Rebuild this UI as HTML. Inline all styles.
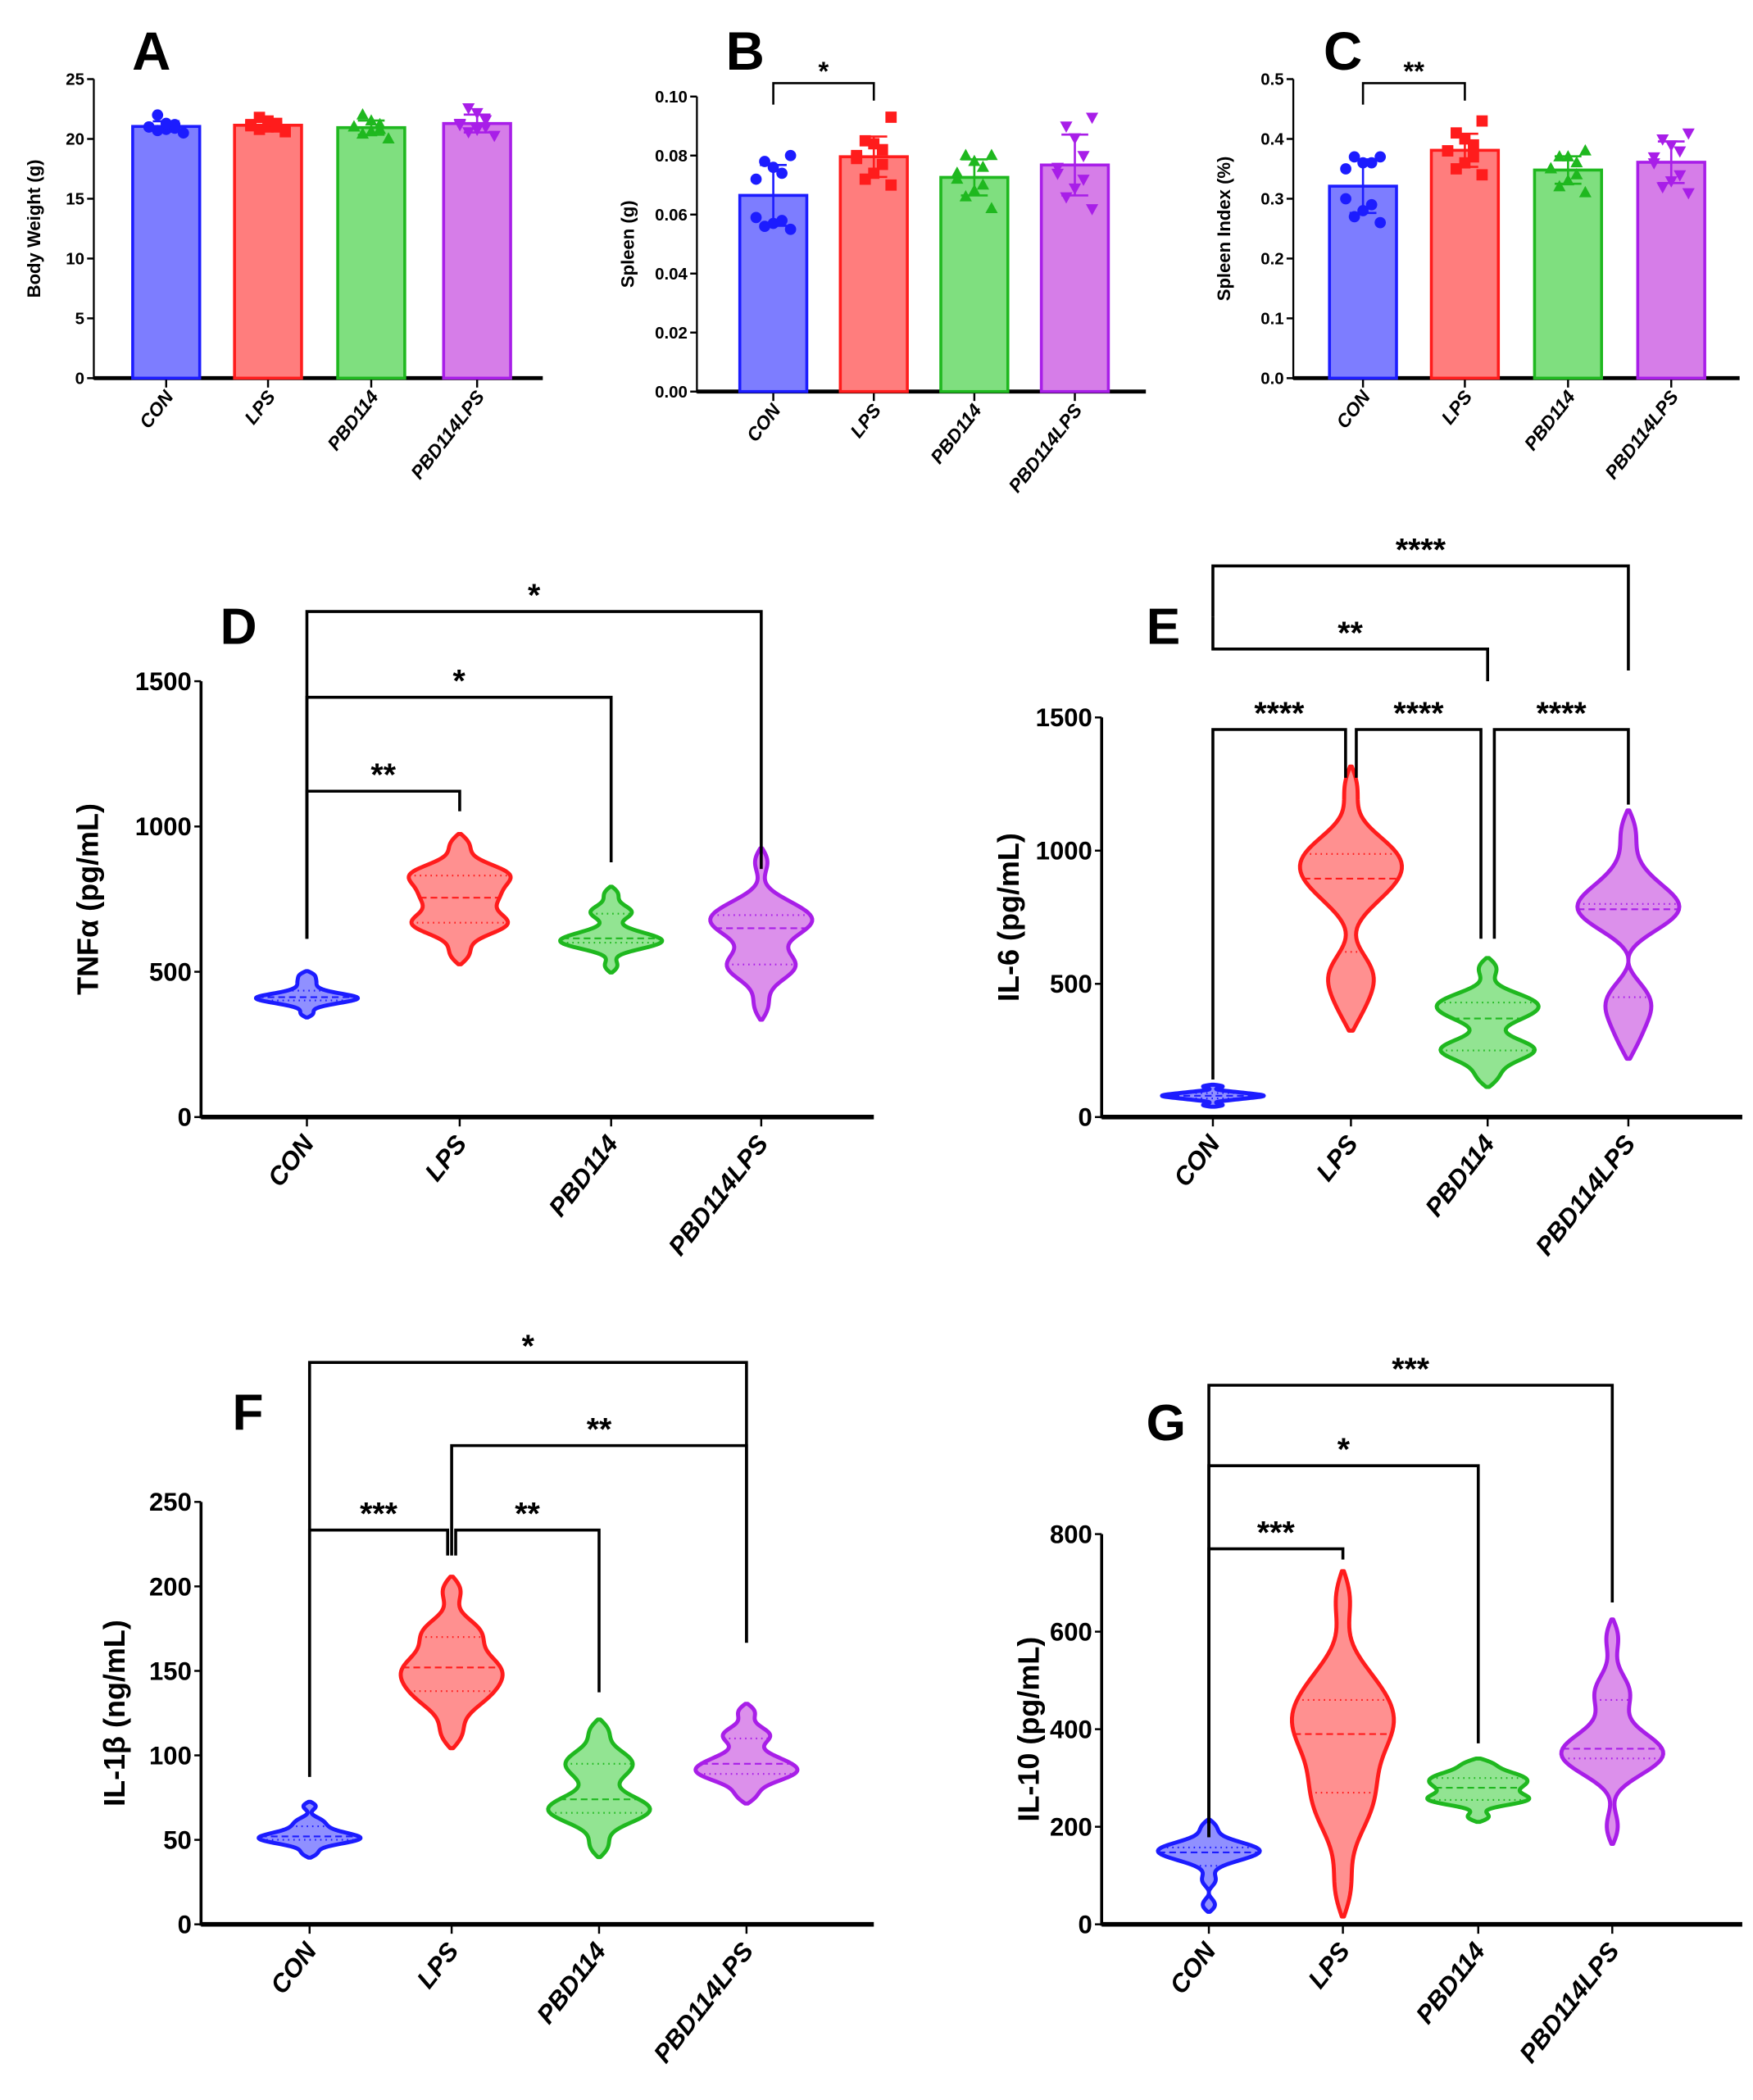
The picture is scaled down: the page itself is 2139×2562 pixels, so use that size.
<!DOCTYPE html>
<html><head><meta charset="utf-8"><style>
html,body{margin:0;padding:0;background:#fff}
svg{display:block;font-family:"Liberation Sans",sans-serif}
</style></head><body>
<svg id="fig" width="2139" height="2562" viewBox="0 0 1308 1566" preserveAspectRatio="none" xmlns="http://www.w3.org/2000/svg"></svg>
<script>
// ---------- DATA ----------
const categories = ["CON","LPS","PBD114","PBD114LPS"];
const bodyWeight = [[20.5,20.7,20.8,20.9,21,21,21.2,21.3,22],[20.6,20.8,21,21,21.1,21.2,21.3,21.5,21.8],[20,20.4,20.6,20.8,21,21,21.2,21.5,22],[20.3,20.6,20.8,21,21.2,21.3,21.6,22.2,22.6]];
const spleenWeight = [[0.055,0.056,0.057,0.058,0.059,0.072,0.074,0.076,0.078,0.080],[0.070,0.072,0.074,0.077,0.079,0.080,0.082,0.084,0.085,0.093],[0.062,0.066,0.068,0.070,0.072,0.074,0.076,0.078,0.080,0.080],[0.062,0.066,0.069,0.072,0.074,0.076,0.080,0.086,0.090,0.093]];
const spleenIndex = [[0.26,0.27,0.28,0.29,0.30,0.35,0.36,0.36,0.37,0.37],[0.34,0.35,0.36,0.37,0.38,0.38,0.39,0.40,0.41,0.43],[0.31,0.32,0.33,0.34,0.35,0.35,0.36,0.37,0.37,0.38],[0.31,0.32,0.33,0.34,0.36,0.37,0.38,0.39,0.40,0.41]];
const tnfa = [[355,385,400,405,410,415,420,440,465,490],[560,650,665,680,750,760,820,835,850,940],[520,590,600,605,615,640,700,710,770],[380,500,520,540,640,660,680,700,740,880]];
const il6 = [[45,65,75,80,85,95,115],[400,520,560,800,880,910,950,1000,1030,1240],[150,240,250,270,370,400,430,450,560],[290,420,450,740,780,790,800,910,1080]];
const il1b = [[42,48,50,51,52,54,58,62,70],[112,130,138,145,152,156,170,176,198],[46,62,66,70,74,88,95,100,115],[76,86,89,92,95,100,110,114,126]];
const il10 = [[40,90,130,145,150,155,165,200],[70,200,260,300,380,400,430,470,520,670],[220,250,255,265,280,290,300,310,330],[200,320,340,350,360,380,460,490,590]];
const ticksA = [0,5,10,15,20,25];
const ticksB = [0,0.02,0.04,0.06,0.08,0.10];
const tickLabelsB = ["0.00","0.02","0.04","0.06","0.08","0.10"];
const ticksC = [0,0.1,0.2,0.3,0.4,0.5];
const tickLabelsC = ["0.0","0.1","0.2","0.3","0.4","0.5"];
const ticksD = [0,500,1000,1500];
const ticksE = [0,500,1000,1500];
const ticksF = [0,50,100,150,200,250];
const ticksG = [0,200,400,600,800];
const sigB = [[0,1,"*"]];
const sigC = [[0,1,"**"]];
const sigD = [[0,1,"**"],[0,2,"*"],[0,3,"*"]];
const sigE = [[0,1,"****"],[1,2,"****"],[2,3,"****"],[0,2,"**"],[0,3,"****"]];
const sigF = [[0,1,"***"],[1,2,"**"],[1,3,"**"],[0,3,"*"]];
const sigG = [[0,1,"***"],[0,2,"*"],[0,3,"***"]];

// ---------- DRAW ----------
const svg = document.getElementById('fig');
const NS = "http://www.w3.org/2000/svg";
const strokeC = ["#1c1cff","#ff1c1c","#1fb81f","#a81ee8"];
const fillC = ["#7d7dff","#ff7d7d","#7fdf7f","#d67de8"];
function mk(tag, attrs, name, parent){
  const el = document.createElementNS(NS, tag);
  for (const k in attrs) el.setAttribute(k, attrs[k]);
  
  
  (parent||svg).appendChild(el);
  return el;
}
function txt(x,y,s,size,name,extra){
  const t = mk('text', Object.assign({x:x,y:y,'font-size':size,'font-weight':'bold',fill:'#000'},extra||{}), name);
  t.textContent = s; return t;
}
const mean = a => a.reduce((p,c)=>p+c,0)/a.length;
const sd = a => {const m=mean(a);return Math.sqrt(a.reduce((p,c)=>p+(c-m)*(c-m),0)/(a.length-1));};
function quant(a,q){const s=[...a].sort((x,y)=>x-y);const p=(s.length-1)*q;const i=Math.floor(p);return s[i]+(s[Math.min(i+1,s.length-1)]-s[i])*(p-i);}

function axes(P, ticks, labels){
  const y = v => P.y0 - (v/P.vmax)*(P.y0-P.yTop);
  mk('line',{x1:P.ax,y1:P.y0+1,x2:P.ax,y2:P.yTop,stroke:'#000','stroke-width':P.big?2.2:1.4},'y-axis-line');
  mk('line',{x1:P.ax,y1:P.y0,x2:P.axEnd,y2:P.y0,stroke:'#000','stroke-width':P.big?3.5:3},'x-axis-line');
  ticks.forEach((v,i)=>{
    mk('line',{x1:P.ax-5,y1:y(v),x2:P.ax,y2:y(v),stroke:'#000','stroke-width':1.5},'y-tick');
    txt(P.ax-7,y(v)+P.tf*0.35,labels?labels[i]:String(v),P.tf,'y-tick-label',{'text-anchor':'end','font-stretch':'condensed'});
  });
  P.xs.forEach((x,i)=>{
    mk('line',{x1:x,y1:P.y0,x2:x,y2:P.y0+7,stroke:'#000','stroke-width':1.5},'x-tick');
    txt(x+6,P.y0+P.xo,categories[i],P.xf,'x-tick-label',{'text-anchor':'end','font-style':'italic',transform:`rotate(-52 ${x+6} ${P.y0+P.xo})`});
  });
  txt(0,0,P.ylab,P.yf,'y-axis-title',{'text-anchor':'middle',transform:`translate(${P.ylx},${(P.y0+P.yTop)/2}) rotate(-90)`});
  txt(P.lx,P.ly,P.letter,P.lf,'panel-letter',{'text-anchor':'middle'});
  return y;
}
function sig(P, list, rows){
  list.forEach((s,k)=>{
    const [a,b,lab] = s; const ry = rows[k][0];
    const xa = P.xs[a] + (rows[k][1]||0), xb = P.xs[b] + (rows[k][2]||0);
    mk('polyline',{points:`${xa},${rows[k][3]} ${xa},${ry} ${xb},${ry} ${xb},${rows[k][4]}`,fill:'none',stroke:'#000','stroke-width':P.big?2.2:1.6},'significance-bracket');
    txt((xa+xb)/2,ry-P.sy,lab,P.sf,'significance-label',{'text-anchor':'middle'});
  });
}
function marker(shape,x,yy,i,r){
  const c=strokeC[i];
  if(shape===0) mk('circle',{cx:x,cy:yy,r:r,fill:c},'data-point');
  else if(shape===1) mk('rect',{x:x-r,y:yy-r,width:2*r,height:2*r,fill:c},'data-point');
  else if(shape===2) mk('polygon',{points:`${x},${yy-r*1.2} ${x-r*1.1},${yy+r*0.8} ${x+r*1.1},${yy+r*0.8}`,fill:c},'data-point');
  else mk('polygon',{points:`${x},${yy+r*1.2} ${x-r*1.1},${yy-r*0.8} ${x+r*1.1},${yy-r*0.8}`,fill:c},'data-point');
}
function barPanel(P, data, ticks, labels){
  const y = axes(P, ticks, labels);
  data.forEach((g,i)=>{
    const m=mean(g), s=sd(g), x=P.xs[i], w=50;
    mk('rect',{x:x-w/2,y:y(m),width:w,height:P.y0-y(m),fill:fillC[i],stroke:strokeC[i],'stroke-width':2.2},'bar-'+categories[i].toLowerCase());
    g.forEach((v,j)=>{ const off=((j%5)-2)*9*((j%2)?1:-1)/1.4; marker(i,x+off,y(v),i,4.2); });
    mk('line',{x1:x,y1:y(m+s),x2:x,y2:y(m-s),stroke:strokeC[i],'stroke-width':1.6},'error-bar');
    mk('line',{x1:x-10,y1:y(m+s),x2:x+10,y2:y(m+s),stroke:strokeC[i],'stroke-width':1.6},'error-cap');
    mk('line',{x1:x-10,y1:y(m-s),x2:x+10,y2:y(m-s),stroke:strokeC[i],'stroke-width':1.6},'error-cap');
  });
  return y;
}
function violinPanel(P, data, ticks){
  const y = axes(P, ticks);
  data.forEach((g,i)=>{
    const x=P.xs[i], mn=Math.min(...g), mx=Math.max(...g), bw=0.1*(mx-mn);
    const lo=mn-0.9*bw, hi=mx+0.9*bw, N=80, d=[];
    const dens = v => {let s=0;g.forEach(u=>{s+=Math.exp(-0.5*((v-u)/bw)**2);});return s;};
    const base = Math.min(dens(lo),dens(hi))*0.9;
    for(let k=0;k<=N;k++){const v=lo+(hi-lo)*k/N;d.push([v,Math.max(0,dens(v)-base)]);}
    const dm=Math.max(...d.map(e=>e[1])), W=P.vw;
    const right=d.map(e=>`${x+e[1]/dm*W},${y(e[0])}`), left=d.slice().reverse().map(e=>`${x-e[1]/dm*W},${y(e[0])}`);
    mk('path',{d:'M'+right.join(' L')+' L'+left.join(' L')+'Z',fill:fillC[i],'fill-opacity':0.85,stroke:strokeC[i],'stroke-width':3,'stroke-linejoin':'round'},'violin-'+categories[i].toLowerCase());
    [[0.25,'1,3'],[0.5,'5,3'],[0.75,'1,3']].forEach(q=>{
      const v=quant(g,q[0]);
      const hw=Math.max(0,dens(v)-base)/dm*W;
      mk('line',{x1:x-hw,y1:y(v),x2:x+hw,y2:y(v),stroke:strokeC[i],'stroke-width':1.3,'stroke-dasharray':q[1]},q[0]===0.5?'median-line':'quartile-line');
    });
  });
  return y;
}
const small = {tf:12.5,xf:14,xo:14,yf:13.5,lf:40,sf:20,sy:2,big:false};
const big = {tf:19,xf:19,xo:20,yf:22,lf:38,sf:24,sy:4,big:true,vw:38};

const PA = Object.assign({},small,{ax:70,axEnd:405,y0:282,yTop:59,vmax:25,xs:[124,200,277,356],ylab:'Body Weight (g)',ylx:30,lx:113,ly:52,letter:'A'});
barPanel(PA, bodyWeight, ticksA);
const PB = Object.assign({},small,{ax:520,axEnd:855,y0:292,yTop:72,vmax:0.1,xs:[577,652,727,802],ylab:'Spleen (g)',ylx:473,lx:556,ly:52,letter:'B'});
barPanel(PB, spleenWeight, ticksB, tickLabelsB);
sig(PB, sigB, [[62,0,0,78,75]]);
const PC = Object.assign({},small,{ax:965,axEnd:1298,y0:282,yTop:59,vmax:0.5,xs:[1017,1093,1170,1247],ylab:'Spleen Index (%)',ylx:918,lx:1002,ly:52,letter:'C'});
barPanel(PC, spleenIndex, ticksC, tickLabelsC);
sig(PC, sigC, [[62,0,0,78,75]]);

const PD = Object.assign({},big,{ax:150,axEnd:652,y0:833,yTop:508,vmax:1500,xs:[229,343,456,568],ylab:'TNFα (pg/mL)',ylx:73,lx:178,ly:480,letter:'D'});
violinPanel(PD, tnfa, ticksD);
sig(PD, sigD, [[590,0,0,700,605],[520,0,0,700,643],[456,0,0,700,648]]);
const PE = Object.assign({},big,{ax:822,axEnd:1300,y0:833,yTop:535,vmax:1500,xs:[905,1008,1110,1215],ylab:'IL-6 (pg/mL)',ylx:760,lx:868,ly:480,letter:'E'});
violinPanel(PE, il6, ticksE);
sig(PE, sigE, [[544,0,-4,805,580],[544,4,-5,580,700],[544,5,0,700,600],[484,0,0,460,508],[422,0,0,460,500]]);
const PF = Object.assign({},big,{ax:150,axEnd:652,y0:1435,yTop:1120,vmax:250,xs:[231,337,447,557],ylab:'IL-1β (ng/mL)',ylx:93,lx:185,ly:1066,letter:'F'});
violinPanel(PF, il1b, ticksF);
sig(PF, sigF, [[1141,0,-3,1325,1160],[1141,3,0,1160,1262],[1078,0,0,1160,1225],[1016,0,0,1325,1225]]);
const PG = Object.assign({},big,{ax:822,axEnd:1300,y0:1435,yTop:1144,vmax:800,xs:[902,1002,1103,1203],ylab:'IL-10 (pg/mL)',ylx:775,lx:870,ly:1074,letter:'G'});
violinPanel(PG, il10, ticksG);
sig(PG, sigG, [[1155,0,0,1370,1163],[1093,0,0,1370,1300],[1033,0,0,1370,1195]]);
</script>
</body></html>
